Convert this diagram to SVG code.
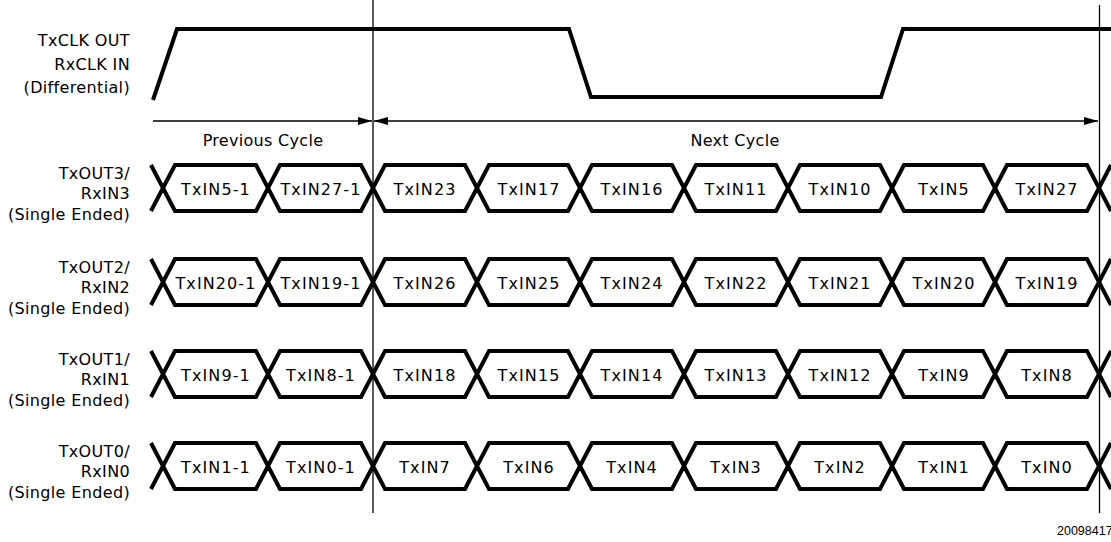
<svg xmlns="http://www.w3.org/2000/svg" xmlns:xlink="http://www.w3.org/1999/xlink" width="1111" height="542" viewBox="0 0 1111 542">
<style>
.lbl{font-family:"DejaVu Sans",sans-serif;font-size:16px;fill:#000;text-anchor:end;letter-spacing:0.35px}
.cell{font-family:"DejaVu Sans",sans-serif;font-size:16px;fill:#000;text-anchor:middle;letter-spacing:1.1px}
.cyc{font-family:"DejaVu Sans",sans-serif;font-size:16px;fill:#000;text-anchor:middle;letter-spacing:0.3px}
.bus{fill:none;stroke:#000;stroke-width:4;stroke-linejoin:miter;stroke-miterlimit:1.9}
.clk{fill:none;stroke:#000;stroke-width:4;stroke-linejoin:miter}
.vl{stroke:#000;stroke-width:1.3;fill:none}
.arr{stroke:#000;stroke-width:1.5;fill:none}
.fig{font-family:"Liberation Sans",sans-serif;font-size:12.5px;fill:#000}
</style>
<defs>
<marker id="ah" viewBox="0 0 14 8" refX="14" refY="4" markerWidth="14" markerHeight="8" markerUnits="userSpaceOnUse" orient="auto-start-reverse">
<path d="M0,0 L14,4 L0,8 Z" fill="#000"/>
</marker>
<path id="bus" class="bus" d="M151,-23 L163,0 L151,23 M1111,-23 L1099,0 L1111,23
M163,0 L175,-23 H256 L268,0 L256,23 H175 Z
M268,0 L280,-23 H361 L373,0 L361,23 H280 Z
M373,0 L385,-23 H465 L477,0 L465,23 H385 Z
M477,0 L489,-23 H568 L580,0 L568,23 H489 Z
M580,0 L592,-23 H672 L684,0 L672,23 H592 Z
M684,0 L696,-23 H776 L788,0 L776,23 H696 Z
M788,0 L800,-23 H880 L892,0 L880,23 H800 Z
M892,0 L904,-23 H983 L995,0 L983,23 H904 Z
M995,0 L1007,-23 H1087 L1099,0 L1087,23 H1007 Z"/>
</defs>

<g id="connectors">
<line class="vl" x1="373" y1="0" x2="373" y2="513"/>
<line class="vl" x1="1099.5" y1="5" x2="1099.5" y2="513"/>
<line class="arr" x1="153" y1="121" x2="372" y2="121" marker-end="url(#ah)"/>
<line class="arr" x1="374" y1="121" x2="1098" y2="121" marker-start="url(#ah)" marker-end="url(#ah)"/>
</g>

<g id="clock">
<text class="lbl" x="130" y="46">TxCLK OUT</text>
<text class="lbl" x="130" y="70">RxCLK IN</text>
<text class="lbl" x="130" y="93">(Differential)</text>
<path class="clk" d="M153,100 L177,29 H569 L591,97 H881 L903,29 H1111"/>
</g>

<g id="cycles">
<text class="cyc" x="263" y="146">Previous Cycle</text>
<text class="cyc" x="735" y="146">Next Cycle</text>
</g>

<g id="row3">
<text class="lbl" x="130" y="179">TxOUT3/</text>
<text class="lbl" x="130" y="199">RxIN3</text>
<text class="lbl" x="130" y="220">(Single Ended)</text>
<use xlink:href="#bus" href="#bus" y="188"/>
<text class="cell" x="216" y="195">TxIN5-1</text>
<text class="cell" x="321" y="195">TxIN27-1</text>
<text class="cell" x="425" y="195">TxIN23</text>
<text class="cell" x="529" y="195">TxIN17</text>
<text class="cell" x="632" y="195">TxIN16</text>
<text class="cell" x="736" y="195">TxIN11</text>
<text class="cell" x="840" y="195">TxIN10</text>
<text class="cell" x="944" y="195">TxIN5</text>
<text class="cell" x="1047" y="195">TxIN27</text>
</g>

<g id="row2">
<text class="lbl" x="130" y="273">TxOUT2/</text>
<text class="lbl" x="130" y="293">RxIN2</text>
<text class="lbl" x="130" y="314">(Single Ended)</text>
<use xlink:href="#bus" href="#bus" y="282"/>
<text class="cell" x="216" y="289">TxIN20-1</text>
<text class="cell" x="321" y="289">TxIN19-1</text>
<text class="cell" x="425" y="289">TxIN26</text>
<text class="cell" x="529" y="289">TxIN25</text>
<text class="cell" x="632" y="289">TxIN24</text>
<text class="cell" x="736" y="289">TxIN22</text>
<text class="cell" x="840" y="289">TxIN21</text>
<text class="cell" x="944" y="289">TxIN20</text>
<text class="cell" x="1047" y="289">TxIN19</text>
</g>

<g id="row1">
<text class="lbl" x="130" y="365">TxOUT1/</text>
<text class="lbl" x="130" y="385">RxIN1</text>
<text class="lbl" x="130" y="406">(Single Ended)</text>
<use xlink:href="#bus" href="#bus" y="374"/>
<text class="cell" x="216" y="381">TxIN9-1</text>
<text class="cell" x="321" y="381">TxIN8-1</text>
<text class="cell" x="425" y="381">TxIN18</text>
<text class="cell" x="529" y="381">TxIN15</text>
<text class="cell" x="632" y="381">TxIN14</text>
<text class="cell" x="736" y="381">TxIN13</text>
<text class="cell" x="840" y="381">TxIN12</text>
<text class="cell" x="944" y="381">TxIN9</text>
<text class="cell" x="1047" y="381">TxIN8</text>
</g>

<g id="row0">
<text class="lbl" x="130" y="457">TxOUT0/</text>
<text class="lbl" x="130" y="477">RxIN0</text>
<text class="lbl" x="130" y="498">(Single Ended)</text>
<use xlink:href="#bus" href="#bus" y="466"/>
<text class="cell" x="216" y="473">TxIN1-1</text>
<text class="cell" x="321" y="473">TxIN0-1</text>
<text class="cell" x="425" y="473">TxIN7</text>
<text class="cell" x="529" y="473">TxIN6</text>
<text class="cell" x="632" y="473">TxIN4</text>
<text class="cell" x="736" y="473">TxIN3</text>
<text class="cell" x="840" y="473">TxIN2</text>
<text class="cell" x="944" y="473">TxIN1</text>
<text class="cell" x="1047" y="473">TxIN0</text>
</g>

<text class="fig" x="1057" y="535">20098417</text>
</svg>
